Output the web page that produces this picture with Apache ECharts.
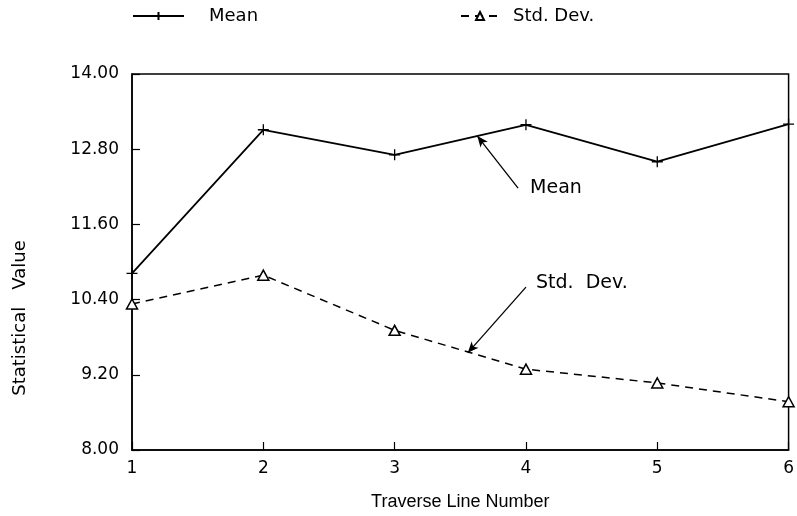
<!DOCTYPE html>
<html>
<head>
<meta charset="utf-8">
<script src="https://cdn.jsdelivr.net/npm/echarts@6/dist/echarts.min.js"></script>
<style>html,body{margin:0;padding:0;background:#fff}#c{width:797px;height:516px}</style>
</head>
<body>
<div id="c"></div>
<script>
const lineNumbers = [1, 2, 3, 4, 5, 6];
const meanValues = [10.82, 13.11, 12.71, 13.19, 12.60, 13.20];
const stdValues = [10.33, 10.79, 9.91, 9.29, 9.07, 8.77];
const yTickValues = [8.00, 9.20, 10.40, 11.60, 12.80, 14.00];
const xTickValues = [1, 2, 3, 4, 5, 6];
const meanArrow = [[3.94, 12.18], [3.63, 13.01]];
const stdArrow = [[4.0, 10.60], [3.557, 9.55]];

const FONT = 'DejaVu Sans';
const TFONT = 'Liberation Sans';
const chart = echarts.init(document.getElementById('c'), null, {renderer: 'canvas'});
const plusPath = 'path://M0,5L10,5M5,0L5,10';

chart.setOption({
  animation: false,
  backgroundColor: '#fff',
  textStyle: {fontFamily: FONT, color: '#000'},
  grid: {left: 132, right: 6, top: 74, bottom: 66, show: true, borderColor: '#000', borderWidth: 1.5, backgroundColor: 'transparent'},
  legend: [
    {data: ['Mean'], left: 132, top: 7, padding: 0, itemWidth: 51, itemHeight: 10, itemGap: 0,
     textStyle: {fontFamily: FONT, fontSize: 18, color: '#000', padding: [0, 0, 0, 20]}},
    {data: ['Std. Dev.'], left: 460, top: 7, padding: 0, itemWidth: 38, itemHeight: 10, itemGap: 0,
     textStyle: {fontFamily: FONT, fontSize: 18, color: '#000', padding: [0, 0, 0, 9]}}
  ],
  xAxis: {
    type: 'value', min: 1, max: 6, interval: 1,
    name: 'Traverse Line Number', nameLocation: 'middle', nameGap: 43,
    nameTextStyle: {fontFamily: TFONT, fontSize: 18, color: '#000'},
    axisLine: {show: true, lineStyle: {color: '#000', width: 1.5}},
    axisTick: {show: true, inside: true, length: 8, lineStyle: {color: '#000', width: 1.2}, customValues: xTickValues},
    axisLabel: {fontFamily: FONT, fontSize: 17, color: '#000', margin: 10, customValues: xTickValues},
    splitLine: {show: false}
  },
  yAxis: {
    type: 'value', min: 8, max: 14,
    axisLine: {show: true, lineStyle: {color: '#000', width: 1.5}},
    axisTick: {show: true, inside: true, length: 8, lineStyle: {color: '#000', width: 1.2}, customValues: yTickValues},
    axisLabel: {fontFamily: FONT, fontSize: 17, color: '#000', margin: 13, customValues: yTickValues,
      formatter: v => v.toFixed(2)},
    splitLine: {show: false}
  },
  graphic: [
    {type: 'text', x: 20, y: 318, rotation: Math.PI / 2,
     style: {text: 'Statistical   Value', font: '18px "DejaVu Sans"', fill: '#000', align: 'center', verticalAlign: 'middle'}}
  ],
  series: [
    {
      name: 'Mean', type: 'line',
      data: lineNumbers.map((x, i) => [x, meanValues[i]]),
      symbol: plusPath, symbolSize: 11, showSymbol: true,
      lineStyle: {color: '#000', width: 1.8},
      itemStyle: {color: '#000', borderColor: '#000', borderWidth: 1.3},
      markLine: {
        silent: true, symbol: ['none', 'arrow'], symbolSize: [7, 11],
        lineStyle: {color: '#000', width: 1.3, type: 'solid'}, label: {show: false},
        data: [[{coord: meanArrow[0]}, {coord: meanArrow[1]}]]
      },
      markPoint: {
        silent: true, symbol: 'circle', symbolSize: 0,
        data: [{coord: meanArrow[0], label: {show: true, position: 'right', distance: 12, formatter: 'Mean', fontFamily: FONT, fontSize: 19, color: '#000'}}]
      }
    },
    {
      name: 'Std. Dev.', type: 'line',
      data: lineNumbers.map((x, i) => [x, stdValues[i]]),
      symbol: 'triangle', symbolSize: [11, 10], showSymbol: true,
      lineStyle: {color: '#000', width: 1.5, type: [8, 6]},
      itemStyle: {color: '#fff', borderColor: '#000', borderWidth: 1.5},
      markLine: {
        silent: true, symbol: ['none', 'arrow'], symbolSize: [7, 11],
        lineStyle: {color: '#000', width: 1.3, type: 'solid'}, label: {show: false},
        data: [[{coord: stdArrow[0]}, {coord: stdArrow[1]}]]
      },
      markPoint: {
        silent: true, symbol: 'circle', symbolSize: 0,
        data: [{coord: stdArrow[0], label: {show: true, position: 'right', distance: 10, formatter: 'Std.  Dev.', fontFamily: FONT, fontSize: 19, color: '#000', offset: [0, -4]}}]
      }
    }
  ]
});
</script>
</body>
</html>
